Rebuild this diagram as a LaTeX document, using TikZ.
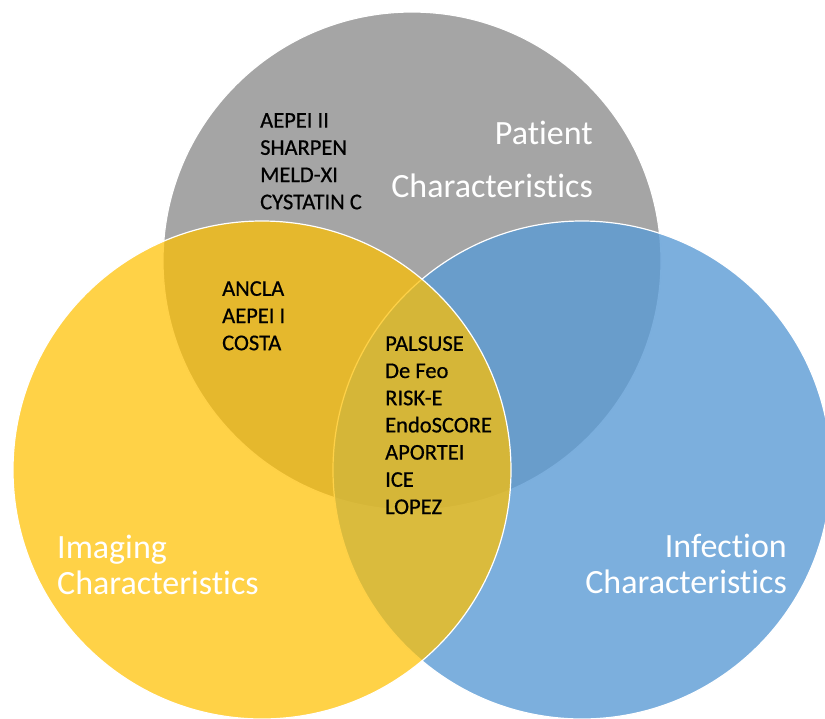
\documentclass[tikz,border=0pt]{standalone}
\usepackage{fontspec}
\setmainfont{Carlito}[RawFeature={-liga;-clig;-calt;-dlig}]
\newfontface\scorefont{Carlito}[FakeBold=0.6]
\usetikzlibrary{positioning}
\definecolor{patientgray}{HTML}{A5A5A5}
\definecolor{infectionblue}{HTML}{5B9BD5}
\definecolor{imaginggold}{HTML}{FFC000}
\tikzset{
x=1pt, y=-1pt, % one unit is one pixel, y runs downwards
set/.style={circle, minimum size=498pt, draw=white, line width=1.2pt}, % the three circles
title/.style={text=white, inner sep=0pt, font=\fontsize{34}{36}\selectfont}, % names of the sets
scores/.style={align=left, inner sep=0pt, font=\scorefont\fontsize{22.5}{27.2}\selectfont}, % the lists of scores
}

\begin{document}
\begin{tikzpicture}
        \useasboundingbox (0,0) rectangle (825,718);
        \node[set, fill=patientgray] (patient) at (412,261) {};
        \node[set, fill=infectionblue, fill opacity=0.8] (infection) at (582,470) {};
        \node[set, fill=imaginggold, fill opacity=0.72] (imaging) at (262,470) {};

        \node[title, align=right, anchor=north east, font=\fontsize{34}{53}\selectfont] (patientname) at (593,121) {Patient\\Characteristics};
        \node[title, align=left, anchor=north west] (imagingname) at (57,535) {Imaging\\Characteristics};
        \node[title, align=right, anchor=north east] (infectionname) at (787,534) {Infection\\Characteristics};

        \node[scores, anchor=north west] (patientscores) at (260,113) {AEPEI II\\SHARPEN\\MELD-XI\\CYSTATIN C};
        \node[scores, anchor=north west] (imagingscores) at (222,281) {ANCLA\\AEPEI I\\COSTA};
        \node[scores, anchor=north west] (allscores) at (385,336) {PALSUSE\\De Feo\\RISK-E\\EndoSCORE\\APORTEI\\ICE\\LOPEZ};
      \end{tikzpicture}
\end{document}
